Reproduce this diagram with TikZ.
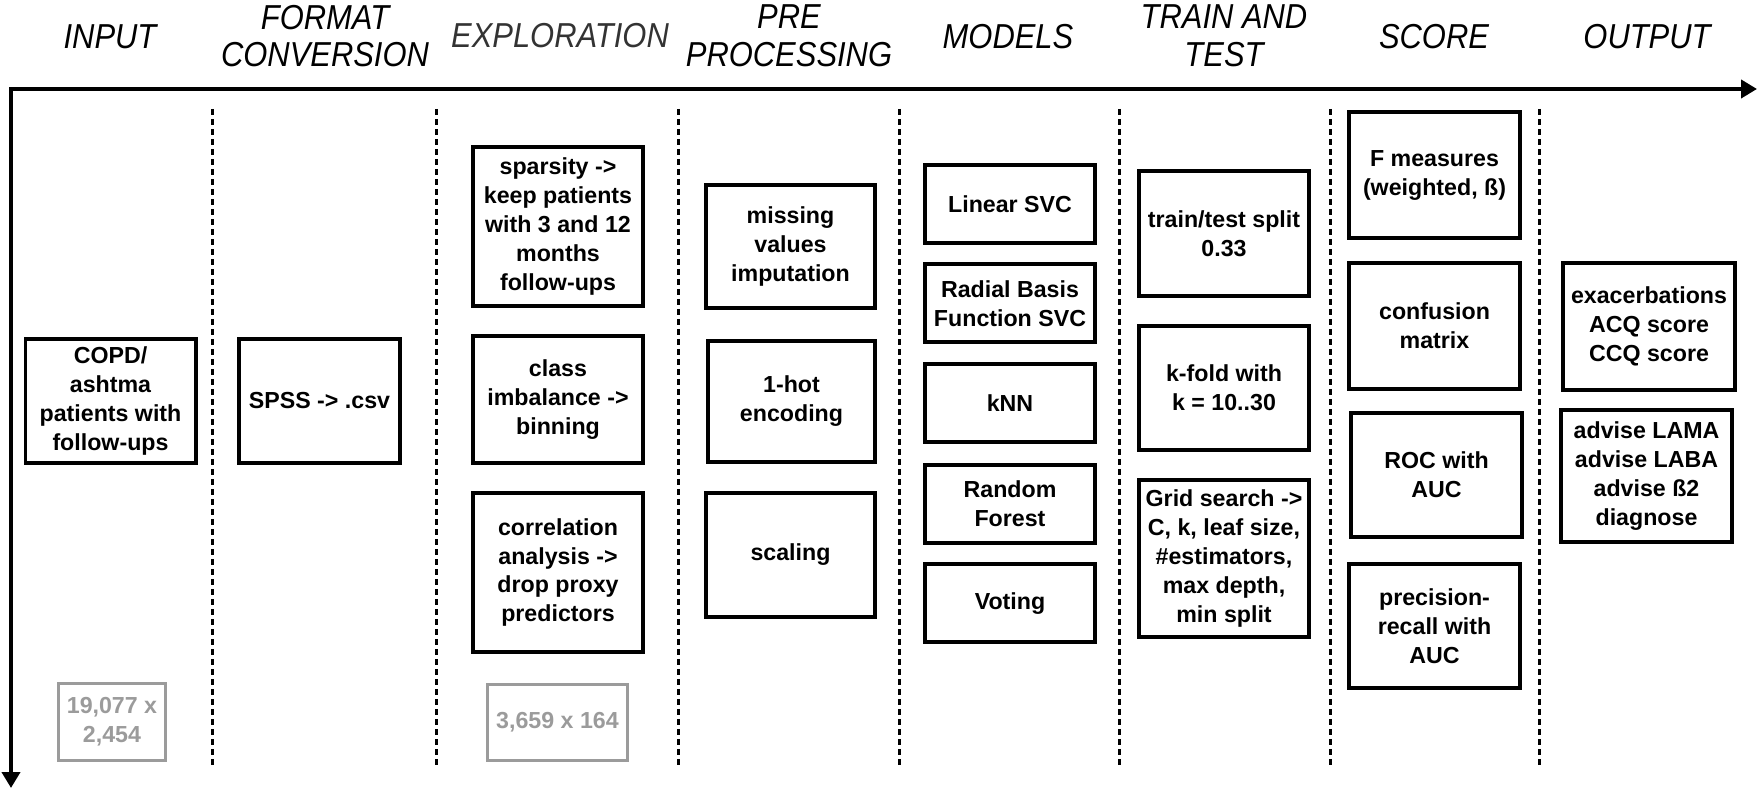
\documentclass[tikz,border=0pt]{standalone}
\usepackage{fontspec}
\setmainfont{Liberation Sans}
\usetikzlibrary{arrows.meta}
\definecolor{countgray}{RGB}{155,155,155}

\begin{document}
\begin{tikzpicture}[
    box/.style={draw, line width=0.04cm, align=center, inner sep=0pt,
      minimum width=1.70cm, font=\bfseries\fontsize{6.6}{8.25}\selectfont},
    dimbox/.style={draw=countgray, text=countgray, line width=0.03cm, align=center,
      inner sep=0pt, font=\bfseries\fontsize{6.6}{8.25}\selectfont},
    head/.style={align=center, inner sep=0pt, yscale=1.12, transform shape,
      font=\itshape\fontsize{8.8}{9.6}\selectfont},
    divider/.style={dash pattern=on 0.06cm off 0.04cm, line width=0.03cm}]
    \useasboundingbox (0,0) rectangle (17.61,-7.89);

    % axes
    \coordinate (O) at (0.11,-0.89);
    \coordinate (xend) at (17.57,-0.89);
    \coordinate (yend) at (0.11,-7.88);
    \draw[line width=0.04cm, {Triangle[length=0.16cm,width=0.18cm]}-{Triangle[length=0.16cm,width=0.18cm]}]
      (yend) -- (O) -- (xend);

    % column headers
    \node[head] (hinput) at (1.10,-0.37) {INPUT};
    \node[head] (hformat) at (3.25,-0.36) {FORMAT\\CONVERSION};
    \node[head, text=black!80] (hexplore) at (5.60,-0.36) {EXPLORATION};
    \node[head] (hpre) at (7.89,-0.36) {PRE\\PROCESSING};
    \node[head] (hmodels) at (10.08,-0.37) {MODELS};
    \node[head] (htrain) at (12.24,-0.36) {TRAIN AND\\TEST};
    \node[head] (hscore) at (14.34,-0.37) {SCORE};
    \node[head] (houtput) at (16.47,-0.37) {OUTPUT};

    % column dividers
    \draw[divider] (2.12,-1.09) -- (2.12,-7.65);
    \draw[divider] (4.36,-1.09) -- (4.36,-7.65);
    \draw[divider] (6.78,-1.09) -- (6.78,-7.65);
    \draw[divider] (8.99,-1.09) -- (8.99,-7.65);
    \draw[divider] (11.19,-1.09) -- (11.19,-7.65);
    \draw[divider] (13.30,-1.09) -- (13.30,-7.65);
    \draw[divider] (15.39,-1.09) -- (15.39,-7.65);

    % input
    \node[box, minimum height=1.24cm] (patients) at (1.105,-4.01) {COPD/\\ashtma\\patients with\\follow-ups};
    \node[dimbox, minimum width=1.07cm, minimum height=0.77cm] (rawsize) at (1.12,-7.22) {19,077 x\\2,454};

    % format conversion
    \node[box, minimum width=1.61cm, minimum height=1.24cm] (spss) at (3.195,-4.01) {SPSS -> .csv};

    % exploration
    \node[box, minimum height=1.59cm] (sparsity) at (5.58,-2.265) {sparsity ->\\keep patients\\with 3 and 12\\months\\follow-ups};
    \node[box, minimum height=1.27cm] (imbalance) at (5.58,-3.995) {class\\imbalance ->\\binning};
    \node[box, minimum height=1.59cm] (correlation) at (5.58,-5.725) {correlation\\analysis ->\\drop proxy\\predictors};
    \node[dimbox, minimum width=1.40cm, minimum height=0.76cm] (cleansize) at (5.575,-7.225) {3,659 x 164};

    % pre processing
    \node[box, minimum width=1.69cm, minimum height=1.23cm] (missing) at (7.905,-2.465) {missing\\values\\imputation};
    \node[box, minimum width=1.67cm, minimum height=1.21cm] (onehot) at (7.915,-4.015) {1-hot\\encoding};
    \node[box, minimum width=1.69cm, minimum height=1.24cm] (scaling) at (7.905,-5.55) {scaling};

    % models
    \node[box, minimum height=0.78cm] (linsvc) at (10.10,-2.04) {Linear SVC};
    \node[box, minimum height=0.78cm] (rbfsvc) at (10.10,-3.035) {Radial Basis\\Function SVC};
    \node[box, minimum height=0.78cm] (knn) at (10.10,-4.035) {kNN};
    \node[box, minimum height=0.78cm] (forest) at (10.10,-5.04) {Random\\Forest};
    \node[box, minimum height=0.78cm] (voting) at (10.10,-6.035) {Voting};

    % train and test
    \node[box, minimum height=1.25cm] (split) at (12.24,-2.335) {train/test split\\0.33};
    \node[box, minimum height=1.24cm] (kfold) at (12.24,-3.88) {k-fold with\\k = 10..30};
    \node[box, minimum height=1.57cm] (grid) at (12.24,-5.585) {Grid search ->\\C, k, leaf size,\\\#estimators,\\max depth,\\min split};

    % score
    \node[box, minimum width=1.71cm, minimum height=1.26cm] (fmeasure) at (14.345,-1.75) {F measures\\(weighted, ß)};
    \node[box, minimum width=1.71cm, minimum height=1.26cm] (confusion) at (14.345,-3.26) {confusion\\matrix};
    \node[box, minimum width=1.71cm, minimum height=1.24cm] (roc) at (14.365,-4.75) {ROC with\\AUC};
    \node[box, minimum width=1.71cm, minimum height=1.24cm] (prcurve) at (14.345,-6.26) {precision-\\recall with\\AUC};

    % output
    \node[box, minimum width=1.72cm, minimum height=1.27cm] (targets) at (16.49,-3.265) {exacerbations\\ACQ score\\CCQ score};
    \node[box, minimum width=1.71cm, minimum height=1.32cm] (advice) at (16.465,-4.76) {advise LAMA\\advise LABA\\advise ß2\\diagnose};
\end{tikzpicture}
\end{document}
